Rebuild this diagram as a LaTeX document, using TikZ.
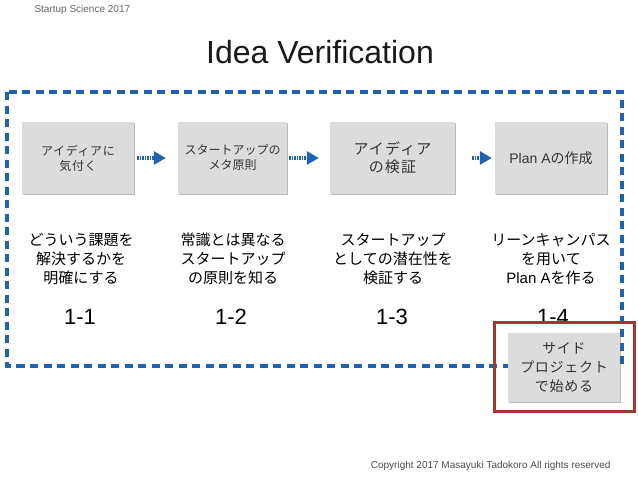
\documentclass[tikz,border=0pt]{standalone}
\usepackage{fontspec}
\setmainfont{Noto Sans CJK JP}
\newfontfamily\jpsp[LetterSpace=8]{Noto Sans CJK JP}
\newfontfamily\jpspb[LetterSpace=5]{Noto Sans CJK JP}
\newfontfamily\lat{Liberation Sans}
\usetikzlibrary{arrows.meta,shadows}
\definecolor{boxgray}{HTML}{DCDCDC}
\definecolor{dblue}{HTML}{1F63B0}
\definecolor{dred}{HTML}{A3362E}
\tikzset{
  stepbox/.style={rectangle, fill=boxgray, inner sep=0pt, text=black!80, align=center,
    drop shadow={shadow xshift=0.6pt, shadow yshift=-1.4pt, opacity=0.45, fill=black!60}},
  flow/.style={dblue, line width=3.4pt, dash pattern=on 1.6pt off 0.9pt, -{Triangle[length=12pt,width=13pt]}},
  desc/.style={align=center, text=black, font=\fontsize{15}{19}\selectfont},
  num/.style={font=\lat\fontsize{22}{22}\selectfont, text=black}
}
\begin{document}
\begin{tikzpicture}[x=1pt,y=-1pt]
\useasboundingbox (0,0) rectangle (638,479);
\node[anchor=west, font=\lat\fontsize{10}{10}\selectfont, text=black!60] (hdr) at (31,10) {Startup Science 2017};
\node[font=\lat\fontsize{32}{32}\selectfont, text=black!90] (title) at (320,52) {Idea Verification};
\node[anchor=east, font=\lat\fontsize{10}{10}\selectfont, text=black!70] (copy) at (614,466) {Copyright 2017 Masayuki Tadokoro All rights reserved};

\draw[dblue, line width=3.6pt, dash pattern=on 8pt off 5.5pt] (7,92) rectangle (622,366);

\node[stepbox, minimum width=112pt, minimum height=72pt, font=\jpspb\fontsize{12}{15}\selectfont] (b1) at (78,158) {アイディアに\\気付く};
\node[stepbox, minimum width=109pt, minimum height=72pt, font=\fontsize{12}{15}\selectfont] (b2) at (232.5,158) {スタートアップの\\メタ原則};
\node[stepbox, minimum width=125pt, minimum height=72pt, font=\jpsp\fontsize{15}{18}\selectfont] (b3) at (392.5,158) {アイディア\\の検証};
\node[stepbox, minimum width=112pt, minimum height=72pt, font=\fontsize{14}{17}\selectfont] (b4) at (551,158) {{\lat Plan A}の作成};

\draw[flow, shorten <=3pt, shorten >=12pt] (b1.east) -- (b2.west);
\draw[flow, shorten <=2pt, shorten >=11pt] (b2.east) -- (b3.west);
\draw[flow, shorten <=17pt, shorten >=3pt] (b3.east) -- (b4.west);

\node[desc] (d1) at (81,259) {どういう課題を\\解決するかを\\明確にする};
\node[desc] (d2) at (233,259) {常識とは異なる\\スタートアップ\\の原則を知る};
\node[desc] (d3) at (393,259) {スタートアップ\\としての潜在性を\\検証する};
\node[desc] (d4) at (551,259) {リーンキャンパス\\を用いて\\{\lat Plan A}を作る};

\node[num] (n1) at (80,317) {1-1};
\node[num] (n2) at (231,317) {1-2};
\node[num] (n3) at (392,317) {1-3};
\node[num] (n4) at (553,317) {1-4};

\node[stepbox, minimum width=112pt, minimum height=69pt, font=\jpspb\fontsize{14}{19}\selectfont] (b5) at (564,367.5) {サイド\\プロジェクト\\で始める};
\draw[dred, line width=3pt] (494,322) rectangle (634,411);
\end{tikzpicture}
\end{document}
